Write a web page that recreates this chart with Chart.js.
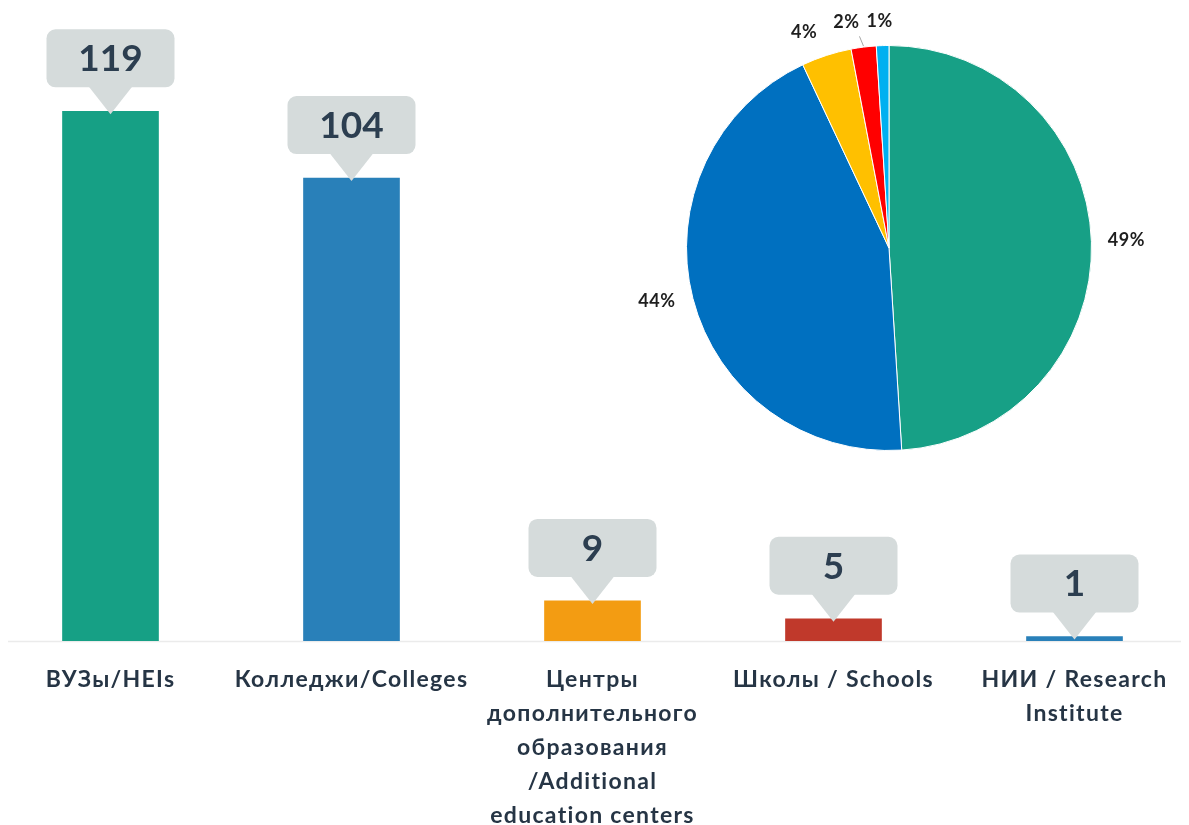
<!DOCTYPE html>
<html>
<head>
<meta charset="utf-8">
<script src="https://cdn.jsdelivr.net/npm/chart.js@4.4.0/dist/chart.umd.min.js"></script>
<style>
  html, body { margin: 0; padding: 0; background: #fff; width: 1189px; height: 825px; overflow: hidden; }
  #wrap { position: relative; width: 1189px; height: 825px; overflow: hidden; }
  #barBox { position: absolute; left: -10px; top: 0; width: 1205px; height: 825px; }
  #pieBox { position: absolute; left: 609px; top: -32px; width: 560px; height: 560px; }
</style>
</head>
<body>
<div id="wrap">
  <div id="barBox"><canvas id="barChart"></canvas></div>
  <div id="pieBox"><canvas id="pieChart"></canvas></div>
</div>
<script>
// Bar data
const categories = [
  'ВУЗы/HEIs',
  'Колледжи/Colleges',
  ['Центры', 'дополнительного', 'образования', '/Additional', 'education centers'],
  'Школы / Schools',
  ['НИИ / Research', 'Institute']
];
const counts = [119, 104, 9, 5, 1];
const barColors = ['#16a085', '#2980b9', '#f39c12', '#c0392b', '#2980b9'];

// Pie data
const shares = [49, 44, 4, 2, 1];
const shareLabels = ['49%', '44%', '4%', '2%', '1%'];
const pieColors = ['#17a086', '#0070c0', '#ffc000', '#ff0000', '#00b0f0'];

const textColor = '#263545';

// Grey callout boxes above the bars
const calloutPlugin = {
  id: 'callouts',
  beforeDatasetsDraw(chart) {
    const ctx = chart.ctx;
    const area = chart.chartArea;
    ctx.save();
    ctx.strokeStyle = '#ebebeb';
    ctx.lineWidth = 1.5;
    ctx.beginPath();
    ctx.moveTo(area.left + 18, area.bottom + 0.5);
    ctx.lineTo(area.right - 14, area.bottom + 0.5);
    ctx.stroke();
    ctx.restore();
  },
  afterDatasetsDraw(chart) {
    const ctx = chart.ctx;
    const meta = chart.getDatasetMeta(0);
    meta.data.forEach((bar, i) => {
      const w = 128, h = 58, gap = 24;
      const x0 = bar.x - w / 2;
      const y1 = bar.y - gap;
      const y0 = y1 - h;
      ctx.save();
      ctx.fillStyle = '#d5dbdb';
      ctx.beginPath();
      ctx.roundRect(x0, y0, w, h, 9);
      ctx.fill();
      ctx.beginPath();
      ctx.moveTo(bar.x - 22, y1 - 1);
      ctx.lineTo(bar.x + 22, y1 - 1);
      ctx.lineTo(bar.x, bar.y + 3);
      ctx.closePath();
      ctx.fill();
      ctx.fillStyle = '#2c3e50';
      ctx.font = 'bold 37px Lato';
      ctx.textAlign = 'center';
      ctx.textBaseline = 'middle';
      ctx.fillText(String(counts[i]), bar.x, y0 + h / 2 + 1);
      ctx.restore();
    });
  },
  afterDraw(chart) {
    // category labels under the axis
    const ctx = chart.ctx;
    const xScale = chart.scales.x;
    const bottom = chart.chartArea.bottom;
    ctx.save();
    ctx.fillStyle = textColor;
    ctx.font = 'bold 23px Lato';
    ctx.letterSpacing = '1.3px';
    ctx.textAlign = 'center';
    ctx.textBaseline = 'middle';
    categories.forEach((lab, i) => {
      const x = xScale.getPixelForValue(i);
      const lines = Array.isArray(lab) ? lab : [lab];
      lines.forEach((ln, j) => {
        ctx.fillText(ln, x, bottom + 39 + j * 34);
      });
    });
    ctx.restore();
  }
};

new Chart(document.getElementById('barChart'), {
  type: 'bar',
  data: {
    labels: categories,
    datasets: [{
      data: counts,
      backgroundColor: barColors,
      barThickness: 96,
      borderWidth: 0
    }]
  },
  options: {
    responsive: true,
    maintainAspectRatio: false,
    animation: false,
    layout: { padding: { top: 0, bottom: 184, left: 0, right: 0 } },
    plugins: { legend: { display: false }, tooltip: { enabled: false } },
    scales: {
      x: { display: false },
      y: { display: false, min: 0, max: 144 }
    }
  },
  plugins: [calloutPlugin]
});

// Percent labels around the pie
const labelNudge = [[2, 0], [-4, -5], [-12, 8], [-13, 8], [-2, 9]];
const pieLabelPlugin = {
  id: 'pieLabels',
  afterDraw(chart) {
    const ctx = chart.ctx;
    const meta = chart.getDatasetMeta(0);
    ctx.save();
    ctx.font = 'bold 18px Lato';
    ctx.letterSpacing = '0.6px';
    ctx.textAlign = 'center';
    ctx.textBaseline = 'middle';
    meta.data.forEach((arc, i) => {
      const mid = (arc.startAngle + arc.endAngle) / 2;
      const r = arc.outerRadius + 33;
      const x = arc.x + r * Math.cos(mid) + labelNudge[i][0];
      const y = arc.y + r * Math.sin(mid) + labelNudge[i][1];
      if (i === 3) {
        ctx.strokeStyle = '#a6a6a6';
        ctx.lineWidth = 1;
        ctx.beginPath();
        ctx.moveTo(arc.x + (arc.outerRadius + 1) * Math.cos(mid), arc.y + (arc.outerRadius + 1) * Math.sin(mid));
        ctx.lineTo(x + 13, y + 14);
        ctx.stroke();
      }
      ctx.fillStyle = '#1e1e1e';
      ctx.fillText(shareLabels[i], x, y);
    });
    ctx.restore();
  }
};

new Chart(document.getElementById('pieChart'), {
  type: 'pie',
  data: {
    labels: shareLabels,
    datasets: [{
      data: shares,
      backgroundColor: pieColors,
      borderColor: '#ffffff',
      borderWidth: 1
    }]
  },
  options: {
    responsive: true,
    maintainAspectRatio: false,
    animation: false,
    layout: { padding: 77 },
    plugins: { legend: { display: false }, tooltip: { enabled: false } }
  },
  plugins: [pieLabelPlugin]
});
</script>
</body>
</html>
